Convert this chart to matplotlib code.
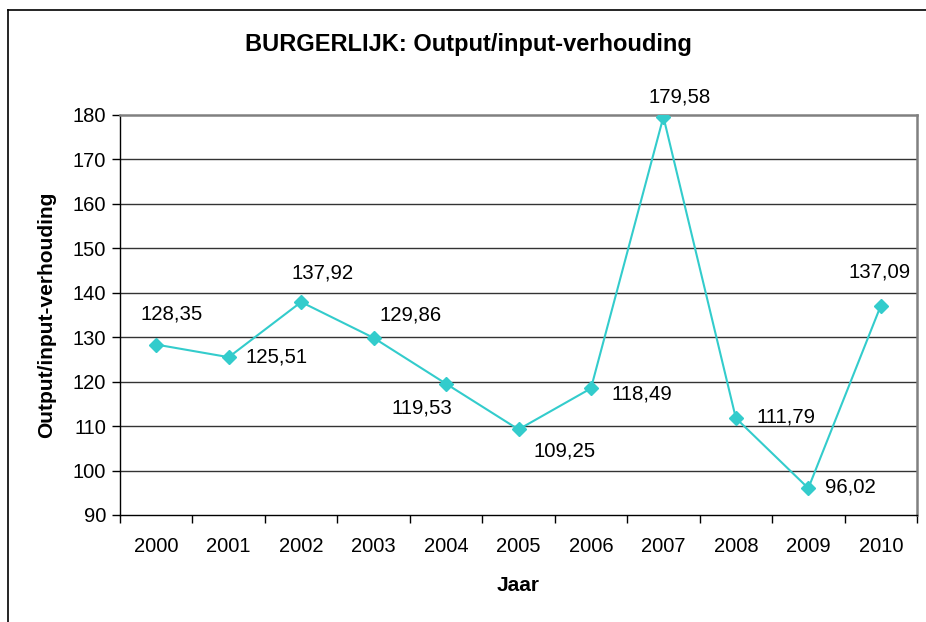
import matplotlib
matplotlib.use("Agg")
import matplotlib.pyplot as plt
from matplotlib.lines import Line2D

plt.rcParams['font.family'] = ['Liberation Sans', 'DejaVu Sans']

jaren = ['2000', '2001', '2002', '2003', '2004', '2005', '2006', '2007', '2008', '2009', '2010']
verhouding = [128.35, 125.51, 137.92, 129.86, 119.53, 109.25, 118.49, 179.58, 111.79, 96.02, 137.09]

# label offsets in pixels (dx, dy up), as placed in the original
offsets = [(15, 31), (48, 0), (21, 29), (37, 23), (-24, -24), (46, -22),
           (51, -6), (16, 20), (50, 1), (42, 1), (-1, 34)]

fig = plt.figure(figsize=(9.26, 6.22), dpi=100)
W, H = 926, 622
ax = fig.add_axes([120 / W, 1 - 515 / H, 797 / W, 400 / H])

kleur = '#33CCCC'
x = list(range(len(jaren)))
ax.plot(x, verhouding, color=kleur, lw=1.5, marker='D', ms=7, mec=kleur, mfc=kleur, zorder=3)

for xi, v, (dx, dy) in zip(x, verhouding, offsets):
    ax.annotate(f"{v:.2f}".replace('.', ','), (xi, v), xytext=(dx * 0.72, dy * 0.72),
                textcoords='offset points', ha='center', va='center', fontsize=14.7)

ax.set_xlim(-0.5, len(jaren) - 0.5)
ax.set_ylim(90, 180)
ax.set_yticks(range(90, 181, 10))
ax.set_xticks(x)
ax.set_xticklabels(jaren, fontsize=14.5)
ax.set_xticks([i - 0.5 for i in range(len(jaren) + 1)], minor=True)
ax.tick_params(axis='x', which='major', length=0, pad=16)
ax.tick_params(axis='x', which='minor', length=6, width=1, color='black', direction='out')
ax.tick_params(axis='y', length=6, width=1, direction='out', labelsize=14.5, pad=4)

for yv in range(100, 180, 10):
    ax.axhline(yv, color='#333333', lw=1, zorder=0)

for side in ['top', 'right']:
    ax.spines[side].set_color('#808080')
    ax.spines[side].set_linewidth(1.8)
for side in ['left', 'bottom']:
    ax.spines[side].set_color('black')
    ax.spines[side].set_linewidth(1)

ax.set_xlabel('Jaar', fontsize=15, fontweight='bold', labelpad=14)
ax.set_ylabel('Output/input-verhouding', fontsize=15, fontweight='bold', labelpad=12)
fig.text(468 / W, 1 - 45 / H, 'BURGERLIJK: Output/input-verhouding',
         ha='center', va='center', fontsize=17, fontweight='bold')

# outer chart frame (left and top visible)
fig.add_artist(Line2D([8 / W, 8 / W], [0, 1 - 10 / H], color='black', lw=1.2, transform=fig.transFigure))
fig.add_artist(Line2D([8 / W, 1], [1 - 10 / H, 1 - 10 / H], color='black', lw=1.2, transform=fig.transFigure))

fig.savefig('out.png', dpi=100)
